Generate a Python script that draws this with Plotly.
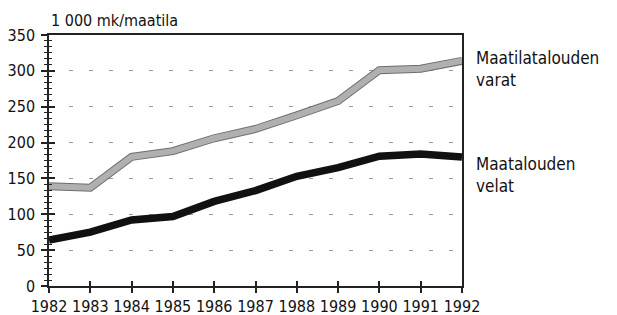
import plotly.graph_objects as go

years = [1982, 1983, 1984, 1985, 1986, 1987, 1988, 1989, 1990, 1991, 1992]
varat = [139, 137, 180, 188, 206, 219, 238, 258, 301, 303, 314]
velat = [64, 75, 92, 97, 118, 133, 153, 165, 181, 184, 180]
y_ticks = [0, 50, 100, 150, 200, 250, 300, 350]
unit_label = "1 000 mk/maatila"
label_varat = "Maatilatalouden<br>varat"
label_velat = "Maatalouden<br>velat"

FONT = "DejaVu Sans Condensed, Liberation Sans Narrow, DejaVu Sans, sans-serif"

fig = go.Figure()
fig.add_trace(go.Scatter(x=years, y=varat, mode="lines",
                         line=dict(color="#6e6e6e", width=8), hoverinfo="skip"))
fig.add_trace(go.Scatter(x=years, y=varat, mode="lines",
                         line=dict(color="#b0b0b0", width=6), hoverinfo="skip"))
fig.add_trace(go.Scatter(x=years, y=velat, mode="lines",
                         line=dict(color="#111111", width=7.5), hoverinfo="skip"))
# invisible trace to activate the overlay axes (crossing tick marks)
fig.add_trace(go.Scatter(x=[years[0]], y=[0], xaxis="x2", yaxis="y2", mode="markers",
                         marker=dict(opacity=0), hoverinfo="skip"))

axis_common = dict(showline=True, linecolor="#222", linewidth=1.5,
                   tickcolor="#222", tickwidth=1.5, automargin=False)

fig.update_layout(
    width=617, height=315,
    margin=dict(l=41, r=163, t=27, b=36.5),
    paper_bgcolor="white", plot_bgcolor="white",
    showlegend=False,
    font=dict(family=FONT, size=16, color="#111"),
    xaxis=dict(range=[1982, 1992], tickmode="array", tickvals=years,
               ticktext=[str(y) for y in years], ticks="outside", ticklen=5,
               showgrid=False, zeroline=False, mirror=True,
               tickfont=dict(size=16), **axis_common),
    yaxis=dict(range=[0, 350], tickmode="array", tickvals=y_ticks,
               ticks="outside", ticklen=6, ticklabelstandoff=3, showgrid=True,
               gridcolor="#9a9a9a", griddash="4px,16px", gridwidth=1,
               zeroline=False, mirror=True, tickfont=dict(size=16),
               minor=dict(ticks="outside", ticklen=3, dtick=50 / 6, tick0=0,
                          tickcolor="#222", tickwidth=1, showgrid=False),
               **axis_common),
    xaxis2=dict(range=[1982, 1992], overlaying="x", tickmode="array", tickvals=years,
                ticks="inside", ticklen=5, showticklabels=False, showgrid=False,
                zeroline=False, showline=False, tickcolor="#222", tickwidth=1.5,
                automargin=False),
    yaxis2=dict(range=[0, 350], overlaying="y", tickmode="array", tickvals=y_ticks,
                ticks="inside", ticklen=6, showticklabels=False, showgrid=False,
                zeroline=False, showline=False, tickcolor="#222", tickwidth=1.5,
                automargin=False,
                minor=dict(ticks="inside", ticklen=3, dtick=50 / 6, tick0=0,
                           tickcolor="#222", tickwidth=1, showgrid=False)),
)

fig.add_annotation(text=unit_label, xref="paper", yref="paper", x=0, y=1,
                   xanchor="left", yanchor="bottom", yshift=3, showarrow=False,
                   font=dict(size=16), align="left")
fig.add_annotation(text=label_varat, xref="paper", yref="y", x=1, y=varat[-1] - 12,
                   xanchor="left", yanchor="middle", xshift=12, showarrow=False,
                   font=dict(size=17), align="left")
fig.add_annotation(text=label_velat, xref="paper", yref="y", x=1, y=velat[-1] - 25,
                   xanchor="left", yanchor="middle", xshift=12, showarrow=False,
                   font=dict(size=17), align="left")

fig.write_html("out.html")
